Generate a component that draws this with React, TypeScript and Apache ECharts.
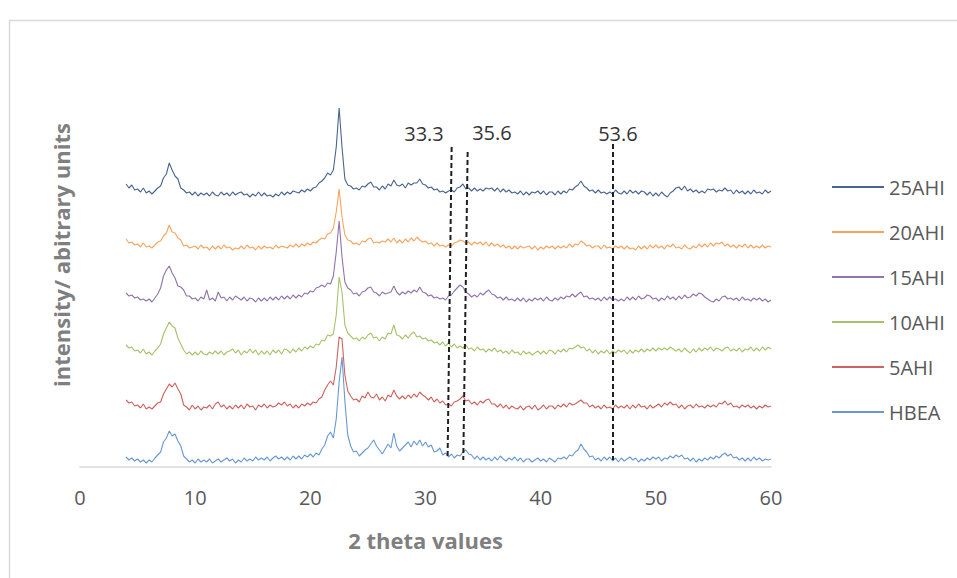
import React, { useEffect, useRef } from "react";
import * as echarts from "echarts";

// 2θ sampling grid: first reading at 4°, one reading every 0.25°, up to 60°
const SAMPLE_START = 4;
const SAMPLE_STEP = 0.25;

const seriesNames = ["25AHI", "20AHI", "15AHI", "10AHI", "5AHI", "HBEA"];

// offset intensities (arbitrary units)
const hbea = [
  10,7,9,6, 8,5,7,4, 7,5,9,12, 15,25,29,36, 31,33,26,21, 11,8,5,7,
  4,8,5,7, 5,8,4,6, 8,5,7,9, 6,8,4,7, 5,9,6,8, 6,10,7,9, 7,10,6,9,
  11,8,10,7, 10,7,11,8, 11,8,12,10, 13,10,14,12, 18,22,31,35, 29,48,85,110,
  66,32,21,15, 16,11,14,17, 19,23,27,21, 17,13,18,23, 19,34,21,16, 19,22,25,20,
  26,22,27,21, 25,20,22,15, 16,19,12,14, 10,13,9,12, 11,15,17,13, 12,8,11,7,
  10,7,9,6, 10,7,11,8, 6,9,7,10, 6,9,5,8, 8,5,7,9, 6,8,5,9, 7,5,9,8,
  10,8,12,11, 15,17,23,18, 15,10,11,7, 9,6,10,7, 10,6,9,5, 9,6,8,10, 7,9,5,8,
  6,9,7,10, 8,10,6,9, 8,11,9,12, 10,12,8,9, 6,9,5,8, 6,9,7,10, 8,11,9,12,
  14,11,13,9, 10,7,9,6, 9,6,10,7, 9,6,8,7, 8,
];

const ahi5 = [
  67,64,65,61, 62,59,63,58, 60,58,61,64, 65,73,78,83, 80,84,78,73, 62,60,57,62,
  58,61,57,60, 59,62,58,63, 65,60,62,58, 61,58,62,59, 62,58,63,60, 61,57,62,60, 63,59,62,60,
  61,64,62,65, 61,63,59,62, 59,63,61,64, 62,65,64,68, 70,77,82,86, 82,100,130,128,
  92,76,71,67, 68,65,71,69, 75,70,69,73, 67,70,66,72, 70,77,71,68, 71,68,72,69,
  73,70,75,72, 70,67,70,65, 68,64,66,62, 63,61,65,66, 68,71,66,67, 63,65,62,66,
  64,67,68,63, 63,60,63,59, 62,58,61,59, 58,61,57,60, 61,58,62,57, 59,62,58,61, 61,58,62,60,
  63,60,64,62, 63,65,67,64, 64,60,62,59, 61,58,62,59, 60,58,62,59, 61,59,62,58, 62,59,63,60,
  61,58,62,59, 61,63,60,64, 62,65,62,63, 59,62,58,61, 62,59,63,60, 61,59,62,60, 62,60,64,63,
  66,62,64,60, 61,59,62,60, 62,59,61,58, 61,59,62,60, 61,
];

const ahi10 = [
  122,119,120,116, 117,114,118,113, 115,112,116,119, 123,133,139,145, 141,139,129,123, 117,113,115,112,
  115,112,116,113, 112,115,113,116, 113,116,112,115, 116,118,114,117, 112,116,114,118, 114,117,112,116, 113,116,112,117,
  114,117,113,118, 117,114,118,115, 119,116,120,118, 121,119,123,122, 127,126,132,131, 133,152,190,175,
  142,134,131,128, 129,126,130,128, 132,134,129,130, 126,130,128,134, 133,142,132,131, 128,132,129,133,
  135,130,131,128, 129,126,127,124, 125,122,125,121, 124,120,123,119, 121,119,122,118, 119,116,120,117,
  118,115,118,116, 119,115,117,114, 116,113,117,114, 115,112,116,113, 115,112,114,116, 113,116,113,117, 116,113,117,115,
  118,115,119,118, 120,122,119,120, 116,118,114,117, 113,116,114,117, 113,116,114,117, 115,117,113,117, 114,117,115,118,
  115,118,116,119, 116,119,117,119, 117,120,118,116, 118,115,119,116, 114,118,115,119, 116,119,117,120, 116,119,118,116,
  119,120,116,118, 116,119,115,118, 117,120,116,119, 116,120,117,120, 118,
];

const ahi15 = [
  174,171,172,169, 170,167,168,166, 168,165,169,173, 179,191,197,201, 194,189,181,180, 177,171,171,168,
  169,166,170,168, 177,167,169,166, 175,169,170,166, 170,167,171,169, 167,170,166,169, 168,165,169,166, 169,166,170,167,
  170,167,171,168, 171,168,172,169, 172,170,174,173, 176,175,179,180, 182,180,184,183, 191,215,246,210,
  185,179,177,173, 174,171,175,176, 179,180,175,174, 171,175,173,174, 175,181,175,172, 175,173,176,174,
  177,175,180,175, 174,171,172,169, 170,168,169,167, 171,172,176,179, 182,180,175,173, 170,172,170,174,
  172,175,177,173, 172,169,170,167, 170,167,168,166, 169,166,169,165, 168,166,169,167, 169,166,170,167, 166,169,167,170,
  168,171,170,173, 170,173,175,170, 171,168,169,167, 169,166,170,167, 170,167,168,166, 168,166,170,167, 170,167,171,168,
  169,172,171,168, 169,166,169,167, 171,168,170,167, 171,168,172,169, 170,173,171,174, 173,170,168,166, 165,168,166,170,
  171,168,169,167, 169,166,170,167, 168,166,169,167, 169,166,168,165, 167,
];

const ahi20 = [
  228,224,225,222, 223,220,224,220, 221,219,222,225, 226,231,234,242, 235,234,229,227, 221,222,219,220,
  221,218,222,219, 220,217,221,218, 221,218,222,219, 220,217,219,218, 221,218,222,219, 220,217,221,218, 221,219,220,218,
  222,219,221,220, 219,222,220,223, 220,223,221,224, 222,225,224,227, 229,228,233,234, 239,255,278,250,
  232,227,226,223, 224,222,226,225, 228,229,224,225, 224,226,225,228, 225,229,224,227, 224,228,225,229,
  226,230,227,225, 226,223,224,221, 224,221,222,220, 222,221,224,225, 227,226,224,225, 222,225,223,225,
  222,225,221,224, 221,223,220,222, 219,221,218,221, 218,221,219,220, 221,218,221,217, 220,218,221,219, 221,218,221,219,
  221,219,223,220, 223,222,226,224, 221,222,219,221, 221,218,222,219, 220,218,221,219, 221,218,221,218, 219,217,221,218,
  221,218,222,219, 222,219,221,218, 222,220,223,219, 220,218,222,219, 218,221,219,223, 220,223,220,224, 221,224,223,225,
  221,223,220,222, 219,222,220,223, 219,222,219,221, 219,222,219,221, 220,
];

const ahi25 = [
  283,279,282,277, 278,275,279,274, 276,273,276,279, 281,289,293,304, 297,291,288,279, 277,274,275,272,
  275,271,274,272, 274,271,275,272, 271,275,272,274, 271,275,272,274, 275,272,273,270, 273,271,275,271, 274,271,272,270,
  273,271,275,272, 275,273,276,275, 274,277,275,278, 276,279,280,284, 286,289,294,292, 297,320,359,320,
  288,282,281,278, 279,277,281,280, 283,285,280,280, 277,281,278,283, 281,287,282,281, 283,279,284,282,
  284,284,288,283, 282,279,280,277, 278,275,276,274, 276,277,275,279, 280,283,278,279, 276,279,276,278,
  276,279,278,279, 276,279,275,278, 275,277,274,275, 273,276,272,275, 272,275,274,276, 273,276,272,275, 275,272,276,273,
  276,274,278,277, 280,282,286,281, 279,276,277,274, 277,274,275,273, 275,273,277,274, 273,276,273,277, 274,276,273,276,
  275,272,275,271, 274,271,275,272, 270,274,276,279, 280,277,281,276, 278,275,277,274, 276,274,278,277, 278,275,277,276,
  279,276,277,273, 277,274,276,273, 276,273,277,274, 275,273,277,274, 276,
];

const seriesValues = [ahi25, ahi20, ahi15, ahi10, ahi5, hbea];
const seriesColors = ["#48658f", "#f9a35f", "#8f74ad", "#a6c26a", "#cd625e", "#6898d4"];

const xTicks = { min: 0, max: 60, interval: 10 };

// hand-drawn reference lines on the original: label text, 2θ at top and at bottom, intensity at top and bottom
const guideLines = [
  { label: "33.3", xTop: 32.27, xBottom: 31.92, yTop: 320, yBottom: 10 },
  { label: "35.6", xTop: 33.66, xBottom: 33.28, yTop: 315, yBottom: 7 },
  { label: "53.6", xTop: 46.3, xBottom: 46.3, yTop: 323, yBottom: 7 },
];
// where each label sits (2θ, intensity)
const guideLabelAt = [
  [29.87, 334],
  [35.77, 335],
  [46.71, 334],
];

const FONT = "'Open Sans', 'Noto Sans', sans-serif";

export default function App() {
  const ref = useRef<HTMLDivElement>(null);

  useEffect(() => {
    if (!ref.current) return;
    const chart = echarts.init(ref.current, undefined, { renderer: "svg" });

    const series: any[] = seriesNames.map((name, k) => ({
      name,
      type: "line",
      showSymbol: false,
      symbol: "none",
      smooth: false,
      data: seriesValues[k].map((v, i) => [SAMPLE_START + i * SAMPLE_STEP, v]),
      lineStyle: { width: 1.1, color: seriesColors[k] },
      itemStyle: { color: seriesColors[k] },
      z: 2,
    }));

    series.push({
      name: "guides",
      type: "line",
      data: [],
      silent: true,
      z: 5,
      markLine: {
        silent: true,
        symbol: ["none", "none"],
        label: { show: false },
        lineStyle: { type: [5, 3], width: 2, color: "#1f1f1f" },
        data: guideLines.map((g) => [
          { coord: [g.xTop, g.yTop] },
          { coord: [g.xBottom, g.yBottom] },
        ]),
      },
      markPoint: {
        silent: true,
        symbol: "circle",
        symbolSize: 1,
        itemStyle: { color: "rgba(0,0,0,0)" },
        label: {
          show: true,
          position: "inside",
          formatter: "{b}",
          color: "#333333",
          fontSize: 20,
          fontFamily: FONT,
        },
        data: guideLines.map((g, i) => ({ name: g.label, coord: guideLabelAt[i] })),
      },
    });

    chart.setOption({
      animation: false,
      backgroundColor: "#ffffff",
      grid: { left: 80, right: 186, top: 67, bottom: 111 },
      xAxis: {
        type: "value",
        min: xTicks.min,
        max: xTicks.max,
        interval: xTicks.interval,
        name: "2 theta values",
        nameLocation: "middle",
        nameGap: 62,
        nameTextStyle: { color: "#7f7f7f", fontSize: 22, fontWeight: "bold", fontFamily: FONT },
        axisLine: { show: true, lineStyle: { color: "#d9d9d9", width: 1.5 } },
        axisTick: { show: false },
        splitLine: { show: false },
        axisLabel: { color: "#595959", fontSize: 20, fontFamily: FONT, margin: 20 },
      },
      yAxis: { type: "value", min: 0, max: 400, show: false },
      legend: {
        orient: "vertical",
        left: 827,
        top: 172,
        icon: "rect",
        itemWidth: 52,
        itemHeight: 2,
        itemGap: 25,
        data: seriesNames,
        textStyle: { color: "#595959", fontSize: 20, fontFamily: FONT, lineHeight: 20 },
      },
      graphic: [
        {
          type: "polyline",
          shape: { points: [[9.5, 578], [9.5, 20.5], [957, 20.5]] },
          style: { stroke: "#d9d9d9", lineWidth: 1.5, fill: "none" },
          silent: true,
        },
        {
          type: "text",
          x: 61,
          y: 255,
          rotation: Math.PI / 2,
          style: {
            text: "intensity/ abitrary units",
            align: "center",
            verticalAlign: "middle",
            fill: "#7f7f7f",
            fontSize: 22,
            fontWeight: "bold",
            fontFamily: FONT,
          },
          silent: true,
        },
      ],
      series,
    });

    return () => chart.dispose();
  }, []);

  return (
    <div
      ref={ref}
      style={{ position: "fixed", left: 0, top: 0, width: 957, height: 578, background: "#fff" }}
    />
  );
}
